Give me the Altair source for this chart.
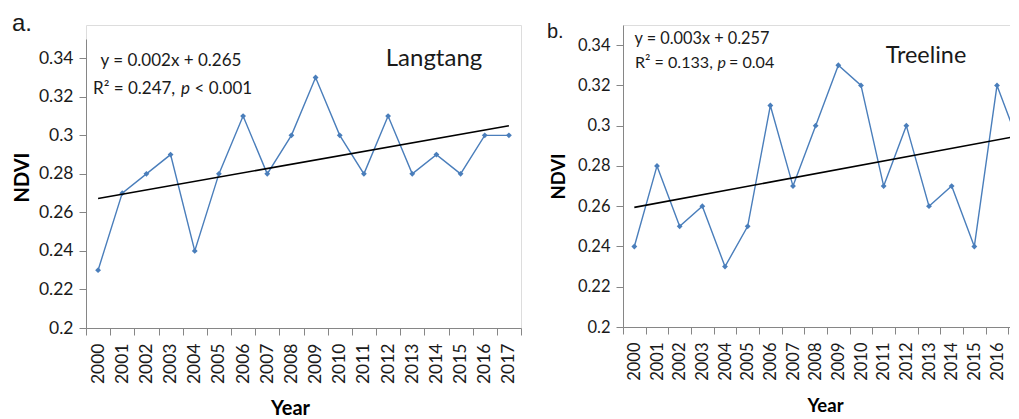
import altair as alt
import pandas as pd

# ---------------- data ----------------
years = list(range(2000, 2018))
langtang = [0.23, 0.27, 0.28, 0.29, 0.24, 0.28, 0.31, 0.28, 0.30, 0.33,
            0.30, 0.28, 0.31, 0.28, 0.29, 0.28, 0.30, 0.30]
treeline = [0.24, 0.28, 0.25, 0.26, 0.23, 0.25, 0.31, 0.27, 0.30, 0.33,
            0.32, 0.27, 0.30, 0.26, 0.27, 0.24, 0.32, 0.29]
y_ticks = [0.20, 0.22, 0.24, 0.26, 0.28, 0.30, 0.32, 0.34]

BLUE = "#4a7ebb"
FONT = "Lato"
TXT = "#1a1a1a"


def txt(text, x, y, size, weight="normal", style="normal", align="left",
        font=FONT, baseline="alphabetic"):
    return alt.Chart(pd.DataFrame({"t": [text]})).mark_text(
        align=align, baseline=baseline, fontSize=size, fontWeight=weight,
        fontStyle=style, font=font, color=TXT
    ).encode(text="t:N", x=alt.value(x), y=alt.value(y))


def panel(values, width, height, yrange, tick_fs, title_fs, ndvi_xy, year_xy, texts):
    df = pd.DataFrame({"year": years, "ndvi": values})
    x_enc = alt.X(
        "year:O", bandPosition=0.5,
        scale=alt.Scale(type="band", paddingInner=0, paddingOuter=0),
        axis=alt.Axis(
            title="Year", labelAngle=270, labelFontSize=tick_fs, labelFont=FONT,
            labelColor=TXT, labelPadding=8, labelOverlap=False,
            tickBand="extent", tickSize=7, tickColor="#868686",
            domainColor="#868686", titleFont=FONT, titleFontSize=title_fs,
            titleFontWeight="bold", titleColor="#000000", titleAlign="center",
            titleBaseline="alphabetic", titleX=year_xy[0], titleY=year_xy[1],
        ),
    )
    if yrange is not None:
        y_scale = alt.Scale(domain=[0.2, 0.35], zero=False, nice=False, range=yrange)
    else:
        y_scale = alt.Scale(domain=[0.2, 0.35], zero=False, nice=False)
    y_enc = alt.Y(
        "ndvi:Q", scale=y_scale,
        axis=alt.Axis(
            title="NDVI", values=y_ticks, format=".2~f", labelFontSize=tick_fs,
            labelFont=FONT, labelColor=TXT, labelPadding=6, tickSize=7,
            tickColor="#868686", domainColor="#868686", grid=False,
            titleFont=FONT, titleFontSize=title_fs, titleFontWeight="bold",
            titleColor="#000000", titleAngle=270, titleAlign="center",
            titleBaseline="middle", titleX=ndvi_xy[0], titleY=ndvi_xy[1],
        ),
    )
    base = alt.Chart(df)
    line = base.mark_line(color=BLUE, strokeWidth=1.4).encode(x=x_enc, y=y_enc)
    pts = base.mark_point(shape="diamond", filled=True, size=34, color=BLUE,
                          opacity=1).encode(x=x_enc, y=y_enc)
    trend = base.transform_regression("year", "ndvi").mark_line(
        color="black", strokeWidth=1.6).encode(x=x_enc, y=y_enc)
    return alt.layer(line, pts, trend, *texts).properties(width=width, height=height)


texts_a = [
    txt("a.", -74, -13, 24, font="Liberation Sans", baseline="top"),
    txt("y = 0.002x + 0.265", 85, 41, 17, align="center"),
    txt("R\u00b2 = 0.247,", 7, 69, 17),
    txt("p", 95, 69, 17, style="italic"),
    txt("< 0.001", 108.5, 69, 17),
    txt("Langtang", 348, 41, 24, align="center"),
]
texts_b = [
    txt("b.", -76, 13, 20, font="Liberation Sans"),
    txt("y = 0.003x + 0.257", 79, 19, 16.3, align="center"),
    txt("R\u00b2 = 0.133,", 12, 43, 16.1),
    txt("p", 94.5, 43, 16.1, style="italic"),
    txt("= 0.04", 106, 43, 16.1),
    txt("Treeline", 303, 38, 23.4, align="center"),
]

a = panel(langtang, 435, 303, [303, 14], 17.5, 20, (-64, 152), (204, 86.5), texts_a)
b = panel(treeline, 408, 302, None, 16.5, 18.5, (-65, 151), (202, 84), texts_b)

chart = alt.hconcat(a, b, spacing=102, bounds="flush").properties(
    padding={"left": 3, "top": 3, "right": -22, "bottom": 0}
).configure_view(stroke=None).configure(background="white")

chart.save("out.html", embed_options={"renderer": "svg", "actions": False})
